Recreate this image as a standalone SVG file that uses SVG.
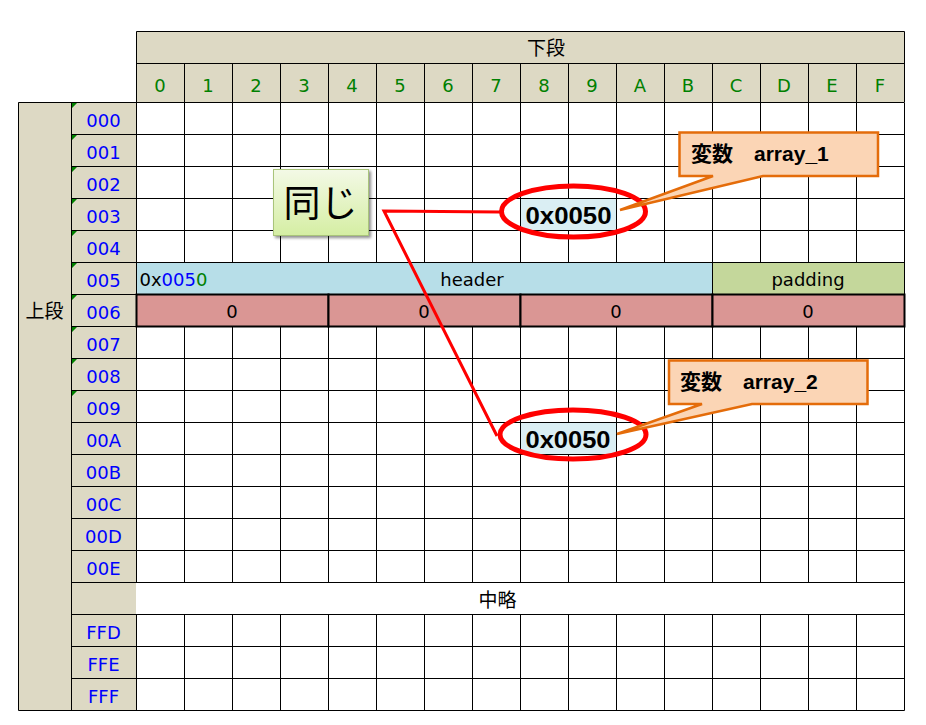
<svg xmlns="http://www.w3.org/2000/svg" width="926" height="725" viewBox="0 0 926 725">
<defs>
<style>
.tan{fill:#DDD9C4}
.g{stroke:#000;stroke-width:1;fill:none}
.lbl{font-family:"DejaVu Sans","Liberation Sans",sans-serif;font-size:18px;fill:#0000FF;text-anchor:middle}
.hd{font-family:"DejaVu Sans","Liberation Sans",sans-serif;font-size:18px;fill:#008000;text-anchor:middle}
.t{font-family:"DejaVu Sans","Liberation Sans",sans-serif;font-size:18px;fill:#000;text-anchor:middle}
.jp{font-family:"Noto Sans CJK JP",sans-serif;font-size:19px;fill:#000;text-anchor:middle}
.tri{fill:#008000}
.val{font-family:"Liberation Sans","DejaVu Sans",sans-serif;font-size:24px;font-weight:bold;fill:#000}
.co{fill:#FBD5B5;stroke:#E46C0A;stroke-width:2.5;stroke-linejoin:miter}
.cot{font-family:"Liberation Sans","Noto Sans CJK JP",sans-serif;font-size:21px;font-weight:bold;fill:#000}
.cjb{font-family:"Noto Sans CJK JP",sans-serif;font-size:21px;font-weight:bold;fill:#000}
.red6{fill:#DA9694;stroke:#000;stroke-width:2}
.ell{fill:none;stroke:#FF0000;stroke-width:5}
</style>
<linearGradient id="gg" x1="0" y1="0" x2="0" y2="1">
<stop offset="0" stop-color="#F3F9E6"/>
<stop offset="1" stop-color="#D5EEA3"/>
</linearGradient>
<filter id="sh" x="-20%" y="-20%" width="150%" height="150%">
<feGaussianBlur in="SourceAlpha" stdDeviation="1.5"/>
<feOffset dx="2" dy="2" result="b"/>
<feComponentTransfer><feFuncA type="linear" slope="0.45"/></feComponentTransfer>
<feMerge><feMergeNode/><feMergeNode in="SourceGraphic"/></feMerge>
</filter>
</defs>
<rect width="926" height="725" fill="#fff"/>

<g id="header">
<rect class="tan" x="136" y="31" width="768" height="71"/>
<path class="g" d="M136.5,31.5H904.5M136.5,63.5H904.5M136.5,31.5V102M904.5,31.5V102M184.5,63.5V102M232.5,63.5V102M280.5,63.5V102M328.5,63.5V102M376.5,63.5V102M424.5,63.5V102M472.5,63.5V102M520.5,63.5V102M568.5,63.5V102M616.5,63.5V102M664.5,63.5V102M712.5,63.5V102M760.5,63.5V102M808.5,63.5V102M856.5,63.5V102"/>
<text class="jp" x="546" y="55">下段</text>
<text class="hd" x="160" y="92">0</text>
<text class="hd" x="208" y="92">1</text>
<text class="hd" x="256" y="92">2</text>
<text class="hd" x="304" y="92">3</text>
<text class="hd" x="352" y="92">4</text>
<text class="hd" x="400" y="92">5</text>
<text class="hd" x="448" y="92">6</text>
<text class="hd" x="496" y="92">7</text>
<text class="hd" x="544" y="92">8</text>
<text class="hd" x="592" y="92">9</text>
<text class="hd" x="640" y="92">A</text>
<text class="hd" x="688" y="92">B</text>
<text class="hd" x="736" y="92">C</text>
<text class="hd" x="784" y="92">D</text>
<text class="hd" x="832" y="92">E</text>
<text class="hd" x="880" y="92">F</text>
</g>

<g id="upper-column">
<rect class="tan" x="18" y="102" width="118" height="608"/>
<text class="jp" x="44.5" y="318">上段</text>
</g>

<g id="row-005">
<rect x="136" y="262" width="576" height="32" fill="#B7DEE8"/>
<rect x="712" y="262" width="192" height="32" fill="#C4D79B"/>
<text x="139.5" y="286" font-family="DejaVu Sans, Liberation Sans, sans-serif" font-size="18"><tspan fill="#000">0x</tspan><tspan fill="#0000FF">005</tspan><tspan fill="#008000">0</tspan></text>
<text class="t" x="472" y="286">header</text>
<text class="t" x="808" y="286">padding</text>
</g>

<g id="grid">
<path class="g" d="M18.5,102.5H904.5M71.5,134.5H904.5M71.5,166.5H904.5M71.5,198.5H904.5M71.5,230.5H904.5M71.5,262.5H904.5M71.5,294.5H136M71.5,326.5H136M71.5,326.5H904.5M71.5,358.5H904.5M71.5,390.5H904.5M71.5,422.5H904.5M71.5,454.5H904.5M71.5,486.5H904.5M71.5,518.5H904.5M71.5,550.5H904.5M71.5,582.5H904.5M71.5,614.5H904.5M71.5,646.5H904.5M71.5,678.5H904.5M18.5,710.5H904.5"/>
<path class="g" d="M18.5,102.5V710.5M71.5,102.5V710.5M136.5,102.5V582.5M136.5,614.5V710.5M904.5,102.5V710.5M712.5,262.5V294.5"/>
<path class="g" d="M184.5,102.5V262.5M232.5,102.5V262.5M280.5,102.5V262.5M328.5,102.5V262.5M376.5,102.5V262.5M424.5,102.5V262.5M472.5,102.5V262.5M520.5,102.5V262.5M568.5,102.5V262.5M616.5,102.5V262.5M664.5,102.5V262.5M712.5,102.5V262.5M760.5,102.5V262.5M808.5,102.5V262.5M856.5,102.5V262.5"/>
<path class="g" d="M184.5,326.5V582.5M232.5,326.5V582.5M280.5,326.5V582.5M328.5,326.5V582.5M376.5,326.5V582.5M424.5,326.5V582.5M472.5,326.5V582.5M520.5,326.5V582.5M568.5,326.5V582.5M616.5,326.5V582.5M664.5,326.5V582.5M712.5,326.5V582.5M760.5,326.5V582.5M808.5,326.5V582.5M856.5,326.5V582.5"/>
<path class="g" d="M184.5,614.5V710.5M232.5,614.5V710.5M280.5,614.5V710.5M328.5,614.5V710.5M376.5,614.5V710.5M424.5,614.5V710.5M472.5,614.5V710.5M520.5,614.5V710.5M568.5,614.5V710.5M616.5,614.5V710.5M664.5,614.5V710.5M712.5,614.5V710.5M760.5,614.5V710.5M808.5,614.5V710.5M856.5,614.5V710.5"/>
<text class="jp" x="497.5" y="607">中略</text>
</g>

<g id="row-006">
<rect class="red6" x="136.5" y="294.5" width="192" height="32"/>
<rect class="red6" x="328.5" y="294.5" width="192" height="32"/>
<rect class="red6" x="520.5" y="294.5" width="192" height="32"/>
<rect class="red6" x="712.5" y="294.5" width="192" height="32"/>
<text class="t" x="232" y="318">0</text>
<text class="t" x="424" y="318">0</text>
<text class="t" x="616" y="318">0</text>
<text class="t" x="808" y="318">0</text>
</g>

<g id="row-labels">
<path class="tri" d="M72,103h5l-5,5z M72,135h5l-5,5z M72,167h5l-5,5z M72,199h5l-5,5z M72,231h5l-5,5z M72,263h5l-5,5z M72,295h5l-5,5z M72,327h5l-5,5z M72,359h5l-5,5z M72,391h5l-5,5z"/>
<text class="lbl" x="103.5" y="127">000</text>
<text class="lbl" x="103.5" y="159">001</text>
<text class="lbl" x="103.5" y="191">002</text>
<text class="lbl" x="103.5" y="223">003</text>
<text class="lbl" x="103.5" y="255">004</text>
<text class="lbl" x="103.5" y="287">005</text>
<text class="lbl" x="103.5" y="319">006</text>
<text class="lbl" x="103.5" y="351">007</text>
<text class="lbl" x="103.5" y="383">008</text>
<text class="lbl" x="103.5" y="415">009</text>
<text class="lbl" x="103.5" y="447">00A</text>
<text class="lbl" x="103.5" y="479">00B</text>
<text class="lbl" x="103.5" y="511">00C</text>
<text class="lbl" x="103.5" y="543">00D</text>
<text class="lbl" x="103.5" y="575">00E</text>
<text class="lbl" x="103.5" y="639">FFD</text>
<text class="lbl" x="103.5" y="671">FFE</text>
<text class="lbl" x="103.5" y="703">FFF</text>
</g>

<g id="value-1">
<rect x="521" y="199" width="95" height="31" fill="#DAEEF3"/>
<text class="val" x="525.5" y="224" textLength="86" lengthAdjust="spacingAndGlyphs">0x0050</text>
</g>
<g id="value-2">
<rect x="521" y="423" width="95" height="31" fill="#DAEEF3"/>
<text class="val" x="525.5" y="448" textLength="85" lengthAdjust="spacingAndGlyphs">0x0050</text>
</g>

<g id="same-label">
<rect x="273.5" y="169.5" width="95" height="66" fill="url(#gg)" stroke="#A9C47A" stroke-width="1" filter="url(#sh)"/>
<text x="320.5" y="217" font-family="Noto Sans CJK JP, sans-serif" font-size="37" fill="#000" text-anchor="middle">同じ</text>
</g>

<g id="connectors">
<polyline points="500,212 384,211 497,436" fill="none" stroke="#FF0000" stroke-width="3" stroke-linejoin="miter"/>
</g>

<g id="highlight-1">
<ellipse class="ell" cx="573.5" cy="211.5" rx="72" ry="25.5"/>
</g>
<g id="highlight-2">
<ellipse class="ell" cx="573" cy="434.5" rx="73" ry="24.5"/>
</g>

<g id="callout-array-1">
<path class="co" d="M679.5,132.5H878V176H763L620,210L713,176H679.5Z"/>
<text class="cjb" x="691" y="161">変数</text>
<text class="cot" x="754" y="161">array_1</text>
</g>
<g id="callout-array-2">
<path class="co" d="M669,360.5H867.5V404H752L617,434L702,404H669Z"/>
<text class="cjb" x="680" y="389">変数</text>
<text class="cot" x="743" y="389">array_2</text>
</g>
</svg>
